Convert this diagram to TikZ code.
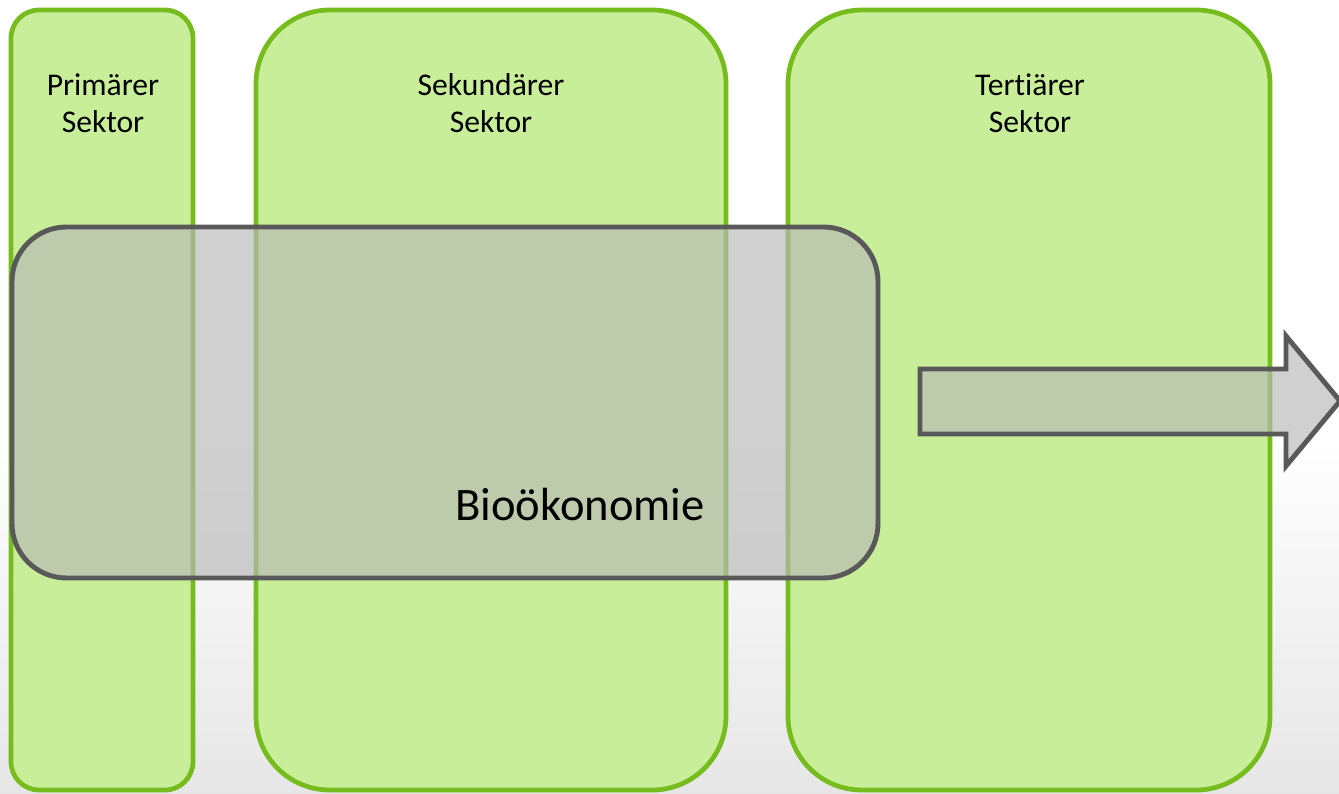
\documentclass[tikz,border=0pt]{standalone}
\usepackage{fontspec}
\setmainfont[RawFeature={-liga,-clig,-dlig}]{Carlito}
\usetikzlibrary{shadows}
\definecolor{sgreen}{RGB}{119,188,31}
\definecolor{sfill}{RGB}{201,238,154}
\definecolor{bgray}{RGB}{89,89,89}
\definecolor{bfill}{RGB}{183,183,183}
\definecolor{bgbot}{RGB}{230,230,230}
\tikzset{
  sectorbox/.style={draw=sgreen, fill=sfill, line width=2.7pt,
    drop shadow={opacity=0.25, shadow xshift=0.6pt, shadow yshift=-1.2pt}},
  biobox/.style={draw=bgray, fill=bfill, fill opacity=0.65, draw opacity=1, line width=2.8pt},
  sectorlabel/.style={font=\fontsize{18}{21}\selectfont, align=center, text=black},
}
\begin{document}
\begin{tikzpicture}[x=0.02cm, y=-0.02cm]
  \useasboundingbox (0,0) rectangle (1339,794);
  \fill[white] (0,0) rectangle (1339,794);
  \shade[top color=white, bottom color=bgbot] (0,440) rectangle (1339,794);
  % sectors
  \draw[sectorbox, rounded corners=16pt] (11,10) rectangle (193,790);
  \draw[sectorbox, rounded corners=42pt] (256,10) rectangle (726,790);
  \draw[sectorbox, rounded corners=42pt] (788,10) rectangle (1270,790);
  \node[sectorlabel] (prim) at (103,103) {Primärer\\Sektor};
  \node[sectorlabel] (sek) at (491,103) {Sekundärer\\Sektor};
  \node[sectorlabel] (ter) at (1030,103) {Tert\kern0pt iärer\\Sektor};
  % bioeconomy box
  \draw[biobox, rounded corners=31pt] (12,227) rectangle (878,578);
  \node[font=\fontsize{26.5}{30}\selectfont] (bio) at (580,504) {Bioökonomie};
  % arrow
  \draw[biobox, line join=miter] (920,369) -- (1286,369) -- (1286,336) -- (1340,401)
     -- (1286,466) -- (1286,434) -- (920,434) -- cycle;
\end{tikzpicture}
\end{document}
